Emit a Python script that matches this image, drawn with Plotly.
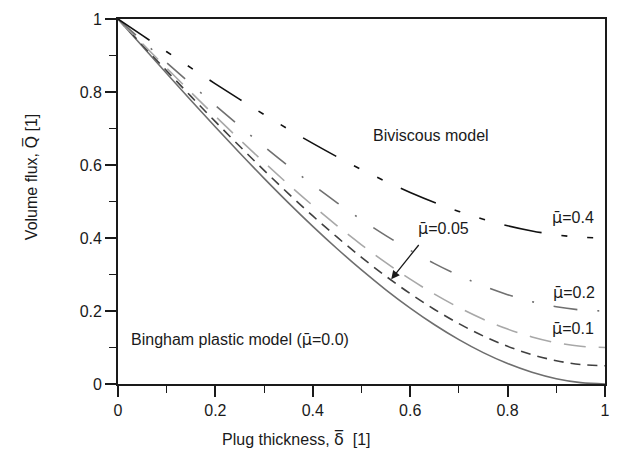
import plotly.graph_objects as go

# Plug thickness (delta bar)
delta = [0.0, 0.05, 0.1, 0.15, 0.2, 0.25, 0.3, 0.35, 0.4, 0.45, 0.5,
         0.55, 0.6, 0.65, 0.7, 0.75, 0.8, 0.85, 0.9, 0.95, 1.0]

# Volume flux (Q bar)
q_bingham = [1.0, 0.9251, 0.8505, 0.7767, 0.704, 0.6328, 0.5635, 0.4964, 0.432, 0.3706, 0.3125,
             0.2582, 0.208, 0.1623, 0.1215, 0.0859, 0.056, 0.0321, 0.0145, 0.0037, 0.0]
q_mu005 = [1.0, 0.9288, 0.858, 0.7879, 0.7188, 0.6512, 0.5853, 0.5216, 0.4604, 0.4021, 0.3469,
           0.2953, 0.2476, 0.2042, 0.1654, 0.1316, 0.1032, 0.0805, 0.0638, 0.0535, 0.05]
q_mu01 = [1.0, 0.9326, 0.8655, 0.799, 0.7336, 0.6695, 0.6072, 0.5468, 0.4888, 0.4335, 0.3813,
          0.3324, 0.2872, 0.2461, 0.2094, 0.1773, 0.1504, 0.1289, 0.1131, 0.1033, 0.1]
q_mu02 = [1.0, 0.9401, 0.8804, 0.8214, 0.7632, 0.7062, 0.6508, 0.5971, 0.5456, 0.4965, 0.45,
          0.4066, 0.3664, 0.3298, 0.2972, 0.2687, 0.2448, 0.2257, 0.2116, 0.203, 0.2]
q_mu04 = [1.0, 0.9551, 0.9103, 0.866, 0.8224, 0.7797, 0.7381, 0.6978, 0.6592, 0.6224, 0.5875,
          0.5549, 0.5248, 0.4974, 0.4729, 0.4515, 0.4336, 0.4193, 0.4087, 0.4022, 0.4]

tick_vals = [0, 0.2, 0.4, 0.6, 0.8, 1]
tick_text = ["0", "0.2", "0.4", "0.6", "0.8", "1"]

FONT = "Liberation Sans, Arial, sans-serif"
DJ = "<span style='font-family:DejaVu Sans'>%s</span>"
MU = DJ % "\u03bc\u0304"

fig = go.Figure()

series = [
    (q_bingham, "#6e6e6e", "solid", 1.6),
    (q_mu005, "#404040", "10px,7px", 1.6),
    (q_mu01, "#a8a8a8", "22px,13px", 1.6),
    (q_mu02, "#707070", "24px,20px,2px,20px", 1.6),
    (q_mu04, "#111111", "38px,20px,6px,20px,6px,20px", 1.6),
]
for ys, col, dash, w in series:
    fig.add_trace(go.Scatter(x=delta, y=ys, mode="lines", line=dict(color=col, dash=dash, width=w, shape="spline"),
                             showlegend=False, hoverinfo="skip"))

axis_common = dict(
    range=[0, 1], tickvals=tick_vals, ticktext=tick_text, ticks="outside", ticklen=11, tickwidth=1.6,
    tickcolor="#1a1a1a", showline=True, linecolor="#1a1a1a", linewidth=1.8, mirror=True,
    showgrid=False, zeroline=False, tickfont=dict(family=FONT, size=16, color="#1a1a1a"),
    minor=dict(dtick=0.1, ticks="outside", ticklen=7, tickwidth=1.4, tickcolor="#1a1a1a", showgrid=False),
)
fig.update_xaxes(**axis_common)
fig.update_yaxes(**axis_common)

ann_font = dict(family=FONT, size=16, color="#1a1a1a")
annotations = [
    dict(x=0.642, y=0.68, text="Biviscous model"),
    dict(x=0.935, y=0.455, text=MU + "=0.4"),
    dict(x=0.669, y=0.425, text=MU + "=0.05"),
    dict(x=0.937, y=0.251, text=MU + "=0.2"),
    dict(x=0.935, y=0.151, text=MU + "=0.1"),
    dict(x=0.022, y=0.121, text="Bingham plastic model (" + MU + "=0.0)", xanchor="left"),
]
for a in annotations:
    fig.add_annotation(xref="x", yref="y", showarrow=False, font=ann_font, **a)

# arrow for mu=0.05
fig.add_annotation(xref="x", yref="y", axref="x", ayref="y", x=0.561, y=0.287, ax=0.620, ay=0.385,
                   text="", showarrow=True, arrowhead=2, arrowsize=1.3, arrowwidth=1.3, arrowcolor="#1a1a1a")

# axis titles
fig.add_annotation(xref="paper", yref="paper", x=(298 - 118) / 492, y=-(440 - 384) / 369,
                   text="Plug thickness, " + (DJ % "\u03b4\u0305") + "  [1]", showarrow=False, font=ann_font,
                   xanchor="center", yanchor="middle")
fig.add_annotation(xref="paper", yref="paper", x=-(118 - 30) / 492, y=(384 - 175) / 369,
                   text="Volume flux, " + (DJ % "Q\u0305") + " [1]", showarrow=False, font=ann_font, textangle=-90,
                   xanchor="center", yanchor="middle")

fig.update_layout(
    width=621, height=457, margin=dict(l=118, r=11, t=15, b=73),
    plot_bgcolor="white", paper_bgcolor="white", font=dict(family=FONT),
)

fig.write_html("out.html")
